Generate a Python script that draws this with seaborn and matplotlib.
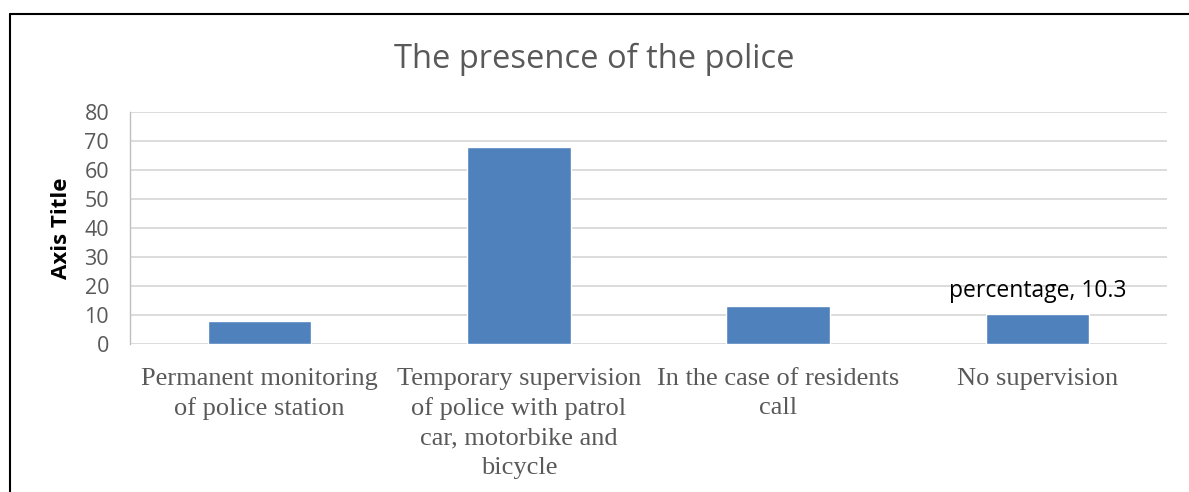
import matplotlib
matplotlib.use("Agg")
import matplotlib.pyplot as plt
import seaborn as sns
import pandas as pd
from matplotlib.lines import Line2D

# Data
categories = [
    "Permanent monitoring\nof police station",
    "Temporary supervision\nof police with patrol\ncar, motorbike and\nbicycle",
    "In the case of residents\ncall",
    "No supervision",
]
percentage = [7.9, 67.9, 13.2, 10.3]
y_ticks = [0, 10, 20, 30, 40, 50, 60, 70, 80]

df = pd.DataFrame({"category": categories, "percentage": percentage})

sns.set_theme(style="white")
plt.rcParams["font.family"] = ["Open Sans", "DejaVu Sans"]

fig = plt.figure(figsize=(11.89, 4.92), dpi=100)
ax = fig.add_axes([130 / 1189, 1 - 344 / 492, 1037 / 1189, 232 / 492])

sns.barplot(data=df, x="category", y="percentage", color="#4f81bd",
            width=0.4, saturation=1, ax=ax, zorder=3)

ax.set_ylim(0, 80)
ax.set_yticks(y_ticks)
ax.yaxis.grid(True, color="#d9d9d9", linewidth=1.3, zorder=0)
ax.set_axisbelow(True)
for s in ["top", "right", "bottom"]:
    ax.spines[s].set_visible(False)
ax.spines["left"].set_color("#bfbfbf")
ax.spines["left"].set_linewidth(1.0)
ax.tick_params(axis="y", labelsize=15.5, colors="#595959", length=0, pad=15)
ax.tick_params(axis="x", length=0, pad=17)
for lab in ax.get_xticklabels():
    lab.set_fontfamily(["Liberation Serif", "DejaVu Serif"])
    lab.set_fontsize(19)
    lab.set_color("#595959")
    lab.set_linespacing(1.43)

ax.set_xlabel("")
ax.set_ylabel("Axis Title", fontsize=16, fontweight="bold", color="black")
ax.yaxis.set_label_coords(-(130 - 72) / 1037, 0.5)

# data label on the last bar
ax.annotate(f"percentage, {percentage[-1]}", xy=(3, percentage[-1]),
            xytext=(0, 8), textcoords="offset points", ha="center", va="bottom",
            fontsize=16.5, color="black")

fig.text(0.5, 1 - 59 / 492, "The presence of the police", ha="center", va="center",
         fontsize=23.5, color="#595959")

# outer frame (top and left visible)
fig.add_artist(Line2D([9.5 / 1189, 1], [1 - 13.5 / 492, 1 - 13.5 / 492],
                      transform=fig.transFigure, color="black", linewidth=1.5))
fig.add_artist(Line2D([9.5 / 1189, 9.5 / 1189], [0, 1 - 13.5 / 492],
                      transform=fig.transFigure, color="black", linewidth=1.5))

fig.savefig("out.png", dpi=100)
